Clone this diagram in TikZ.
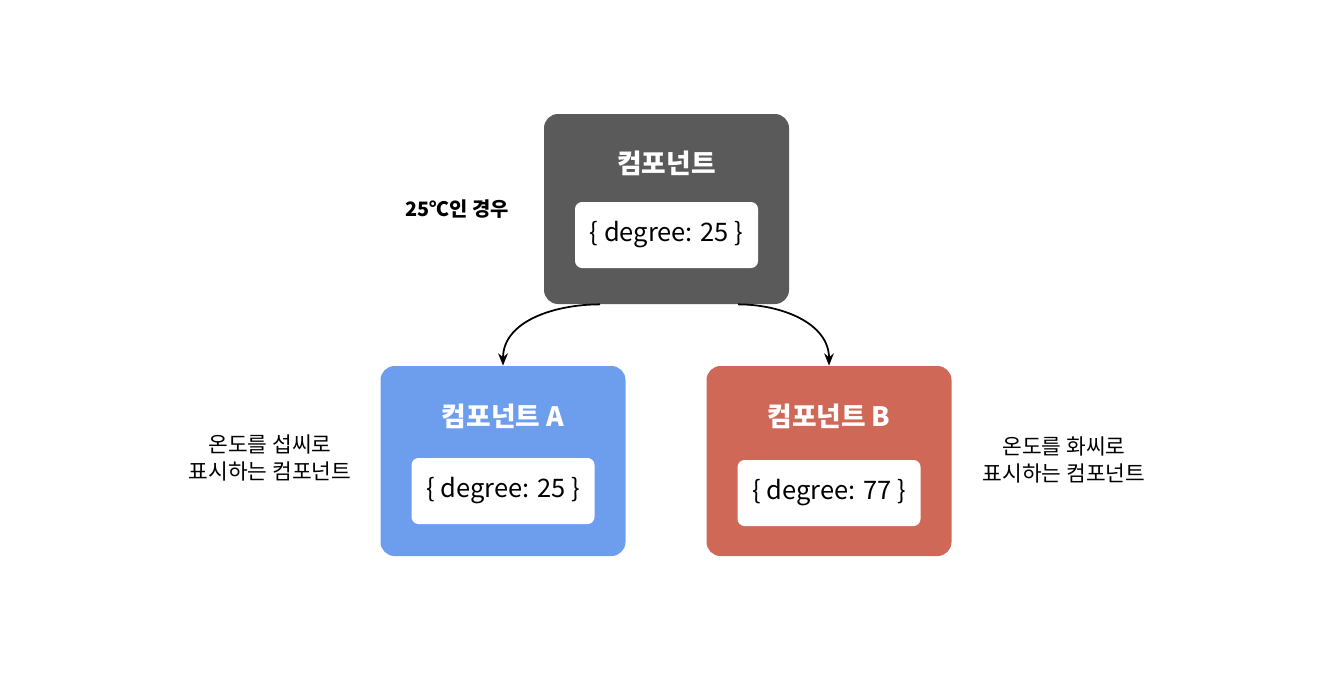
\documentclass[tikz,border=0pt]{standalone}
\usepackage{fontspec}
\setmainfont{Noto Sans CJK KR}
\usepackage{tikz}
\usetikzlibrary{arrows.meta,positioning,calc}
\definecolor{compgray}{RGB}{90,90,90}
\definecolor{compblue}{RGB}{109,158,237}
\definecolor{compred}{RGB}{208,104,88}

\begin{document}
\begin{tikzpicture}[
    compbox/.style={rectangle, fill=#1, draw=none, minimum width=4.9cm, minimum height=3.8cm, rounded corners=8pt, inner sep=0pt},
    statebox/.style={rectangle, fill=white, minimum width=3.66cm, minimum height=1.32cm, rounded corners=4pt, inner sep=0pt, font=\fontsize{14.5}{17}\selectfont},
    title/.style={font=\fontsize{15.2}{18}\selectfont\bfseries, text=white},
    note/.style={font=\fontsize{12.2}{15.5}\selectfont, align=center},
    arrow/.style={-{Stealth[length=7pt,width=5.5pt]}, line width=1pt}
  ]
    \useasboundingbox (0,0) rectangle (26.62,-13.88);

    % Parent component
    \node[compbox=compgray] (top) at (13.33,-4.18) {};
    \node[title] (toptitle) at (13.33,-3.26) {컴포넌트};
    \node[statebox] (topstate) at (13.33,-4.70) {\{ degree: 25 \}};
    \node[font=\fontsize{11.3}{13}\selectfont\bfseries] (case) at (9.14,-4.18) {25℃인 경우};

    % Child components
    \node[compbox=compblue] (boxA) at (10.06,-9.22) {};
    \node[title] (titleA) at (10.06,-8.32) {컴포넌트 A};
    \node[statebox] (stateA) at (10.06,-9.82) {\{ degree: 25 \}};

    \node[compbox=compred] (boxB) at (16.58,-9.22) {};
    \node[title] (titleB) at (16.58,-8.32) {컴포넌트 B};
    \node[statebox] (stateB) at (16.58,-9.86) {\{ degree: 77 \}};

    % Notes
    \node[note] (noteA) at (5.40,-9.16) {온도를 섭씨로\\표시하는 컴포넌트};
    \node[note] (noteB) at (21.28,-9.20) {온도를 화씨로\\표시하는 컴포넌트};

    % Props flow
    \draw[arrow] ([xshift=-1.33cm]top.south) to[out=180,in=90] (boxA.north);
    \draw[arrow] ([xshift=1.43cm]top.south) to[out=0,in=90] (boxB.north);
  \end{tikzpicture}
\end{document}
